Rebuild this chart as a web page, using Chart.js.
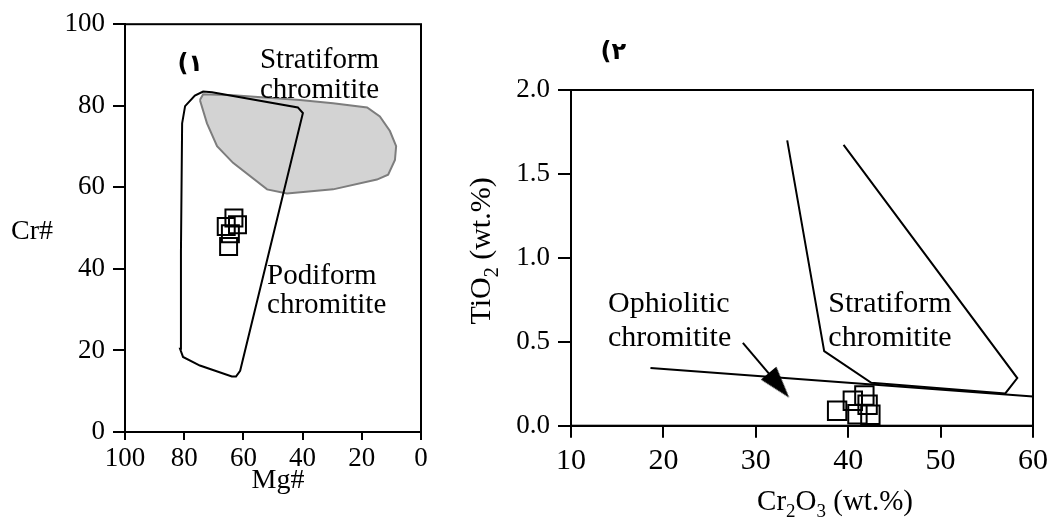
<!DOCTYPE html>
<html>
<head>
<meta charset="utf-8">
<script src="https://cdn.jsdelivr.net/npm/chart.js@4.4.1/dist/chart.umd.min.js"></script>
<style>
  html, body { margin: 0; padding: 0; background: #fff; }
  #wrap { position: relative; width: 1053px; height: 520px; }
  canvas { position: absolute; top: 0; }
</style>
</head>
<body>
<div id="wrap">
  <canvas id="left" width="440" height="520" style="left:0"></canvas>
  <canvas id="right" width="613" height="520" style="left:440px"></canvas>
</div>
<script>
/* ---------- panel 1 : Cr# vs Mg# ---------- */
const stratiformMg = [74.7, 73.6, 63.4, 40.9, 29.7, 18.2, 13.9, 10.5, 8.4, 8.8, 11.1, 14.9, 29.7, 45.3, 52.0, 63.5, 68.9, 72.3, 74.7];
const stratiformCr = [81.4, 82.8, 82.6, 81.4, 80.6, 79.6, 77.4, 73.8, 70.1, 66.7, 63.1, 61.9, 59.5, 58.5, 59.5, 66.0, 70.1, 75.7, 81.4];

const podiformMg = [80.7, 79.7, 76.4, 73.6, 70.6, 41.6, 39.9, 61.1, 62.5, 63.9, 74.7, 80.4, 81.4, 81.1, 80.7];
const podiformCr = [75.7, 79.9, 82.5, 83.5, 83.3, 79.6, 78.2, 15.0, 13.6, 13.6, 16.3, 18.4, 20.4, 44.2, 75.7];

const sampleMg = [63.2, 62.0, 65.8, 64.4, 65.0];
const sampleCr = [52.5, 50.8, 50.4, 48.6, 45.5];

/* ---------- panel 2 : TiO2 vs Cr2O3 ---------- */
const boundaryCr2O3 = [18.6, 60.0];
const boundaryTiO2  = [0.344, 0.174];

const stratCr2O3 = [33.4, 37.4, 42.5, 57.0, 58.3, 39.5];
const stratTiO2  = [1.70, 0.444, 0.256, 0.192, 0.284, 1.673];

const arrowCr2O3 = [28.6, 32.5];
const arrowTiO2  = [0.494, 0.240];

const sample2Cr2O3 = [38.8, 40.5, 41.75, 42.1, 41.0, 42.4];
const sample2TiO2  = [0.089, 0.149, 0.180, 0.125, 0.068, 0.065];

const SERIF = "'Liberation Serif', 'Times New Roman', serif";
const ARABIC = "'DejaVu Sans', 'Noto Sans', sans-serif";

const pts = (xs, ys) => xs.map((x, i) => ({ x, y: ys[i] }));

// arrow head as a small canvas, pointing up (rotated by Chart.js)
const arrowHead = document.createElement('canvas');
arrowHead.width = 20;
arrowHead.height = 32;
(() => {
  const c = arrowHead.getContext('2d');
  c.fillStyle = '#000';
  c.beginPath();
  c.moveTo(10, 0);
  c.lineTo(20, 32);
  c.lineTo(0, 32);
  c.closePath();
  c.fill();
})();

function axis(opts) {
  return {
    type: 'linear',
    min: opts.min,
    max: opts.max,
    reverse: !!opts.reverse,
    ticks: {
      stepSize: opts.step,
      autoSkip: false,
      maxRotation: 0,
      padding: opts.padding,
      color: '#000',
      font: { family: SERIF, size: opts.fontSize },
      callback: opts.fmt || (v => v)
    },
    grid: { drawOnChartArea: false, drawTicks: true, tickLength: opts.tick, color: '#000', lineWidth: 2 },
    border: { display: true, color: '#000', width: 2 },
    afterFit: opts.fit
  };
}

function drawRich(ctx, parts, x, y, size, rotate) {
  ctx.save();
  ctx.translate(x, y);
  if (rotate) ctx.rotate(-Math.PI / 2);
  const subSize = Math.round(size * 0.65);
  const fontOf = sub => (sub ? subSize : size) + 'px ' + SERIF;
  let w = 0;
  for (const [t, sub] of parts) { ctx.font = fontOf(sub); w += ctx.measureText(t).width; }
  let cx = -w / 2;
  ctx.textAlign = 'left';
  ctx.textBaseline = 'alphabetic';
  ctx.fillStyle = '#000';
  for (const [t, sub] of parts) {
    ctx.font = fontOf(sub);
    ctx.fillText(t, cx, sub ? size * 0.25 : 0);
    cx += ctx.measureText(t).width;
  }
  ctx.restore();
}

function frame(chart) {
  const { ctx, chartArea: a } = chart;
  ctx.save();
  ctx.strokeStyle = '#000';
  ctx.lineWidth = 2;
  ctx.strokeRect(a.left, a.top, a.right - a.left, a.bottom - a.top);
  ctx.restore();
}

function note(ctx, text, px, py, font) {
  ctx.save();
  ctx.font = font;
  ctx.fillStyle = '#000';
  ctx.textAlign = 'left';
  ctx.textBaseline = 'alphabetic';
  ctx.fillText(text, px, py);
  ctx.restore();
}

const leftNotes = {
  id: 'leftNotes',
  afterDraw(chart) {
    const { ctx, scales: { x, y } } = chart;
    frame(chart);
    const f = '29px ' + SERIF;
    note(ctx, 'Stratiform', x.getPixelForValue(54.4), y.getPixelForValue(89.3), f);
    note(ctx, 'chromitite', x.getPixelForValue(54.4), y.getPixelForValue(82.0), f);
    note(ctx, 'Podiform', x.getPixelForValue(52.0), y.getPixelForValue(36.2), f);
    note(ctx, 'chromitite', x.getPixelForValue(52.0), y.getPixelForValue(29.1), f);
    note(ctx, '(۱', x.getPixelForValue(82.3), y.getPixelForValue(88.6), 'bold 24px ' + ARABIC);
    drawRich(ctx, [['Mg#']], 278, 488, 28);
    drawRich(ctx, [['Cr#']], 32, 239, 28);
  }
};

const rightNotes = {
  id: 'rightNotes',
  afterDraw(chart) {
    const { ctx, scales: { x, y } } = chart;
    frame(chart);
    const f = '30px ' + SERIF;
    note(ctx, 'Ophiolitic', x.getPixelForValue(14.0), y.getPixelForValue(0.68), f);
    note(ctx, 'chromitite', x.getPixelForValue(14.0), y.getPixelForValue(0.472), f);
    note(ctx, 'Stratiform', x.getPixelForValue(37.85), y.getPixelForValue(0.68), f);
    note(ctx, 'chromitite', x.getPixelForValue(37.85), y.getPixelForValue(0.472), f);
    note(ctx, '(۲', x.getPixelForValue(13.2), y.getPixelForValue(2.185), 'bold 24px ' + ARABIC);
    drawRich(ctx, [['Cr'], ['2', true], ['O'], ['3', true], [' (wt.%)']], 395, 510, 29);
    drawRich(ctx, [['TiO'], ['2', true], [' (wt.%)']], 50, 251, 30, true);
  }
};

const base = {
  responsive: false,
  animation: false,
  devicePixelRatio: 1,
  events: [],
  plugins: { legend: { display: false }, tooltip: { enabled: false } }
};

new Chart(document.getElementById('left'), {
  type: 'scatter',
  data: {
    datasets: [
      {
        data: pts(stratiformMg, stratiformCr),
        order: 3,
        showLine: true, fill: 'shape',
        backgroundColor: '#d3d3d3', borderColor: '#7d7d7d', borderWidth: 2,
        pointRadius: 0
      },
      {
        data: pts(podiformMg, podiformCr),
        order: 2,
        showLine: true, fill: false,
        borderColor: '#000', borderWidth: 2,
        pointRadius: 0
      },
      {
        data: pts(sampleMg, sampleCr),
        order: 1,
        pointStyle: 'rect', pointRadius: 12,
        borderColor: '#000', borderWidth: 2, backgroundColor: 'rgba(0,0,0,0)'
      }
    ]
  },
  options: {
    ...base,
    layout: { padding: { left: 0, right: 19, top: 21, bottom: 0 } },
    scales: {
      x: axis({ min: 0, max: 100, step: 20, reverse: true, tick: 8, padding: 3, fontSize: 27,
                fit: s => { s.height = 88; } }),
      y: axis({ min: 0, max: 100, step: 20, tick: 12, padding: 8, fontSize: 27,
                fit: s => { s.width = 125; } })
    }
  },
  plugins: [leftNotes]
});

new Chart(document.getElementById('right'), {
  type: 'scatter',
  data: {
    datasets: [
      {
        data: pts(boundaryCr2O3, boundaryTiO2),
        showLine: true, borderColor: '#000', borderWidth: 2, pointRadius: 0
      },
      {
        data: pts(stratCr2O3, stratTiO2),
        showLine: true, borderColor: '#000', borderWidth: 2, pointRadius: 0
      },
      {
        data: pts(arrowCr2O3, arrowTiO2),
        showLine: true, borderColor: '#000', borderWidth: 2,
        pointRadius: [0, 16], pointStyle: arrowHead, pointRotation: 140
      },
      {
        data: pts(sample2Cr2O3, sample2TiO2),
        pointStyle: 'rect', pointRadius: 13,
        borderColor: '#000', borderWidth: 2, backgroundColor: 'rgba(0,0,0,0)'
      }
    ]
  },
  options: {
    ...base,
    layout: { padding: { left: 0, right: 19.5, top: 90, bottom: 0 } },
    scales: {
      x: axis({ min: 10, max: 60, step: 10, tick: 12, padding: 5, fontSize: 30,
                fit: s => { s.height = 94.3; } }),
      y: axis({ min: 0, max: 2, step: 0.5, tick: 13, padding: 8, fontSize: 27,
                fmt: v => v.toFixed(1),
                fit: s => { s.width = 131; } })
    }
  },
  plugins: [rightNotes]
});
</script>
</body>
</html>
